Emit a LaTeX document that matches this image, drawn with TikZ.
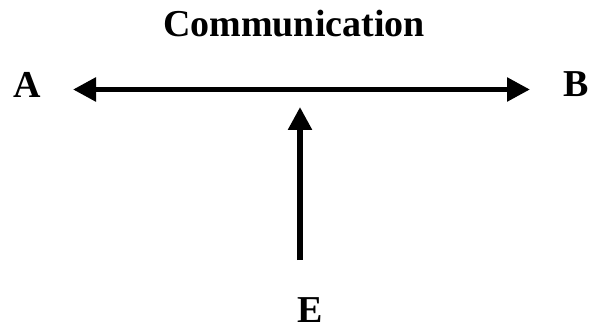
\documentclass[tikz,border=0pt]{standalone}
\usepackage{fontspec}
\setmainfont{Liberation Serif}
\usetikzlibrary{arrows.meta}
\tikzset{
  lbl/.style={font=\bfseries\fontsize{38}{42}\selectfont, inner sep=0pt, anchor=base},
  bigarrow/.style={line width=5.5pt, -{Triangle[length=23pt,width=23pt]}},
  bigdarrow/.style={line width=5.5pt, {Triangle[length=23pt,width=23pt]}-{Triangle[length=23pt,width=23pt]}}
}
\begin{document}
\begin{tikzpicture}[x=1pt,y=-1pt]
\useasboundingbox (0,0) rectangle (590,329);
\node[lbl] (title) at (294,37) {Communication};
\node[lbl] (A) at (27,98) {A};
\node[lbl] (B) at (576,97) {B};
\node[lbl] (E) at (310,322) {E};
\coordinate (left) at (73,89.5);
\coordinate (right) at (530,89.5);
\coordinate (mid) at (300,107);
\coordinate (bottom) at (300,260);
\draw[bigdarrow] (left) -- (right);
\draw[bigarrow] (bottom) -- (mid);
\end{tikzpicture}
\end{document}
